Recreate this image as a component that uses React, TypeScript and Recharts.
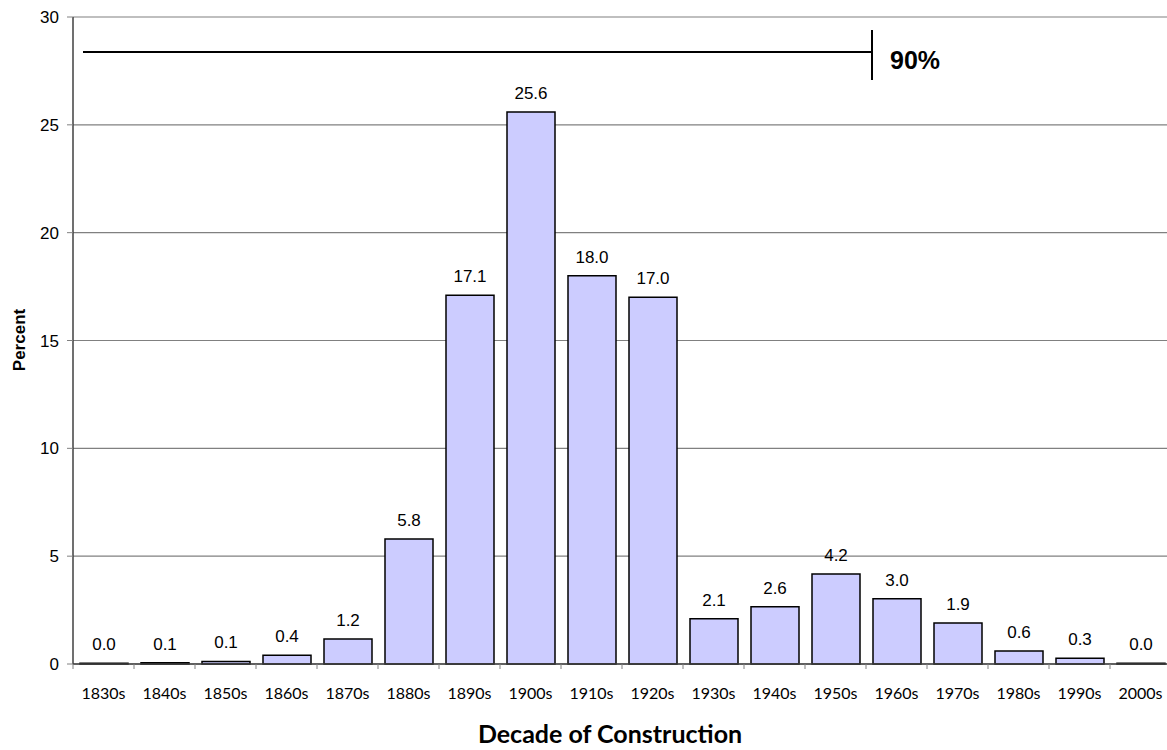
import { BarChart, Bar, XAxis, YAxis, CartesianGrid, LabelList } from 'recharts'

const decades = [
  '1830s', '1840s', '1850s', '1860s', '1870s', '1880s', '1890s', '1900s', '1910s',
  '1920s', '1930s', '1940s', '1950s', '1960s', '1970s', '1980s', '1990s', '2000s',
]
const percents = [
  0.03, 0.06, 0.12, 0.4, 1.16, 5.8, 17.1, 25.6, 18.0,
  17.0, 2.1, 2.65, 4.17, 3.03, 1.9, 0.6, 0.27, 0.03,
]
const yTicks = [0, 5, 10, 15, 20, 25, 30]

const data = decades.map((decade, i) => ({ decade, percent: percents[i] }))

const BAND = 61

function DecadeTick(props: any) {
  const { x, y, payload, index } = props
  const half = BAND / 2
  return (
    <g>
      <line x1={x - half} y1={y} x2={x - half} y2={y + 5} stroke="#808080" />
      {index === decades.length - 1 && (
        <line x1={x + half} y1={y} x2={x + half} y2={y + 5} stroke="#808080" />
      )}
      <text x={x} y={y + 35} textAnchor="middle" fontFamily="Lato" fontSize={16} fill="#000">
        {payload.value}
      </text>
    </g>
  )
}

export default function App() {
  return (
    <div
      style={{
        position: 'absolute',
        left: 0,
        top: 0,
        width: 1167,
        height: 750,
        overflow: 'hidden',
        background: '#fff',
      }}
    >
      <BarChart
        width={1173}
        height={750}
        data={data}
        margin={{ top: 17, right: 2, left: 0, bottom: 46 }}
      >
        <CartesianGrid vertical={false} stroke="#808080" strokeWidth={1.2} />
        <XAxis
          dataKey="decade"
          height={40}
          tickSize={0}
          tickMargin={0}
          tickLine={false}
          axisLine={{ stroke: '#404040', strokeWidth: 1.5 }}
          tick={<DecadeTick />}
          interval={0}
        />
        <YAxis
          width={73}
          domain={[0, 30]}
          ticks={yTicks}
          tickSize={6}
          tickMargin={8}
          axisLine={{ stroke: '#404040', strokeWidth: 1.5 }}
          tickLine={{ stroke: '#808080' }}
          tick={{ fill: '#000', fontSize: 17, fontFamily: 'Liberation Sans, Arial, sans-serif' }}
        />
        <Bar
          dataKey="percent"
          fill="#CCCCFF"
          stroke="#000"
          strokeWidth={1.5}
          barSize={48}
          isAnimationActive={false}
        >
          <LabelList
            dataKey="percent"
            position="top"
            offset={13}
            formatter={(v: any) => Number(v).toFixed(1)}
            style={{ fill: '#000', fontSize: 17, fontFamily: 'Liberation Sans, Arial, sans-serif' }}
          />
        </Bar>
      </BarChart>

      {/* 90% annotation bracket */}
      <svg
        width={1167}
        height={750}
        style={{ position: 'absolute', left: 0, top: 0, pointerEvents: 'none' }}
      >
        <line x1={83} y1={52} x2={872} y2={52} stroke="#000" strokeWidth={2} />
        <line x1={872} y1={30} x2={872} y2={80} stroke="#000" strokeWidth={2} />
        <text
          x={890}
          y={69}
          fontFamily="Liberation Sans, Arial, sans-serif"
          fontWeight="bold"
          fontSize={25}
          fill="#000"
        >
          90%
        </text>
        <text
          transform="translate(25 340) rotate(-90)"
          textAnchor="middle"
          fontFamily="Liberation Sans, Arial, sans-serif"
          fontWeight="bold"
          fontSize={17}
          fill="#000"
        >
          Percent
        </text>
        <text
          x={610}
          y={743}
          textAnchor="middle"
          fontFamily="Lato"
          fontWeight="bold"
          fontSize={25}
          fill="#000"
        >
          Decade of Construction
        </text>
      </svg>
    </div>
  )
}
